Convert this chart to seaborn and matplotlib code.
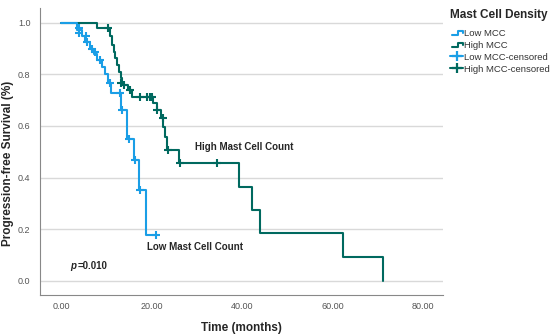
import pandas as pd
import matplotlib
matplotlib.use("Agg")
import matplotlib.pyplot as plt
from matplotlib.lines import Line2D
from matplotlib.legend_handler import HandlerBase
import seaborn as sns

# Kaplan-Meier steps (time in months, survival after the drop)
low_times = [0, 3.6, 4.6, 5.3, 6.3, 7.2, 8.0, 9.0, 9.8, 10.4, 11.0, 13.3, 14.5, 16.0, 17.3, 18.7, 21.0]
low_surv = [1.0, 0.97, 0.95, 0.925, 0.90, 0.88, 0.855, 0.83, 0.80, 0.765, 0.727, 0.66, 0.55, 0.467, 0.351, 0.177, 0.177]

high_times = [0, 7.9, 10.8, 11.2, 11.6, 12.0, 12.4, 12.8, 13.2, 13.5, 14.8, 15.6, 20.4, 21.2, 22.0,
              22.6, 23.0, 23.4, 26.0, 39.4, 42.3, 44.0, 62.3, 71.2]
high_surv = [1.0, 0.979, 0.95, 0.913, 0.888, 0.862, 0.836, 0.81, 0.784, 0.758, 0.74, 0.713, 0.688, 0.662, 0.63,
             0.597, 0.558, 0.506, 0.456, 0.364, 0.274, 0.184, 0.093, 0.0]

# censored observations
low_cens_t = [4.0, 4.0, 5.5, 5.8, 6.8, 7.4, 8.6, 10.8, 13.1, 13.4, 14.9, 16.4, 17.5, 20.9]
low_cens_s = [0.978, 0.959, 0.95, 0.926, 0.90, 0.885, 0.855, 0.765, 0.727, 0.66, 0.55, 0.467, 0.351, 0.177]

high_cens_t = [10.3, 13.2, 13.9, 15.2, 17.5, 19.0, 19.7, 20.1, 21.2, 22.5, 23.7, 26.3, 34.4]
high_cens_s = [0.979, 0.765, 0.758, 0.74, 0.713, 0.713, 0.713, 0.713, 0.662, 0.63, 0.506, 0.456, 0.456]

x_ticks = [0, 20, 40, 60, 80]
y_ticks = [0.0, 0.2, 0.4, 0.6, 0.8, 1.0]

LOW_COLOR = "#1A9EE6"
HIGH_COLOR = "#00695F"

sns.set_style("white")
plt.rcParams["font.family"] = ["Liberation Sans", "DejaVu Sans"]


class StepHandler(HandlerBase):
    """Draw a small step shape as legend key"""
    def create_artists(self, legend, orig_handle, xdescent, ydescent, width, height, fontsize, trans):
        x0 = -xdescent + width * 0.15
        w = width * 0.85
        xs = [x0, x0 + w * 0.55, x0 + w * 0.55, x0 + w, x0 + w]
        ys = [-ydescent + height * 0.2, -ydescent + height * 0.2,
              -ydescent + height * 0.75, -ydescent + height * 0.75, -ydescent + height * 0.5]
        line = Line2D(xs, ys, color=orig_handle.get_color(), lw=1.5)
        line.set_transform(trans)
        return [line]


low_df = pd.DataFrame({"Time": low_times, "Survival": low_surv})
high_df = pd.DataFrame({"Time": high_times, "Survival": high_surv})
low_c = pd.DataFrame({"Time": low_cens_t, "Survival": low_cens_s})
high_c = pd.DataFrame({"Time": high_cens_t, "Survival": high_cens_s})

fig = plt.figure(figsize=(5.5, 3.34), dpi=100)
ax = fig.add_axes([0.073, 0.117, 0.733, 0.859])

sns.lineplot(data=high_df, x="Time", y="Survival", drawstyle="steps-post", estimator=None,
             color=HIGH_COLOR, lw=1.5, ax=ax)
sns.lineplot(data=low_df, x="Time", y="Survival", drawstyle="steps-post", estimator=None,
             color=LOW_COLOR, lw=1.5, ax=ax)
sns.scatterplot(data=low_c, x="Time", y="Survival", marker="+", s=28, linewidth=1.5,
                color=LOW_COLOR, ax=ax, zorder=3)
sns.scatterplot(data=high_c, x="Time", y="Survival", marker="+", s=28, linewidth=1.5,
                color=HIGH_COLOR, ax=ax, zorder=3)

ax.set_xlim(-4.65, 84.5)
ax.set_ylim(-0.055, 1.057)
ax.set_xticks(x_ticks)
ax.set_xticklabels([f"{v:.2f}" for v in x_ticks])
ax.set_yticks(y_ticks)
ax.set_yticklabels([f"{v:.1f}" for v in y_ticks])
ax.tick_params(axis="x", length=0, labelsize=6.5, labelcolor="#555555", pad=5)
ax.tick_params(axis="y", length=0, labelsize=6.5, labelcolor="#555555", pad=7)
for y in y_ticks:
    ax.axhline(y, color="#d9d9d9", lw=1, zorder=0)
sns.despine(ax=ax)
ax.spines["left"].set_color("#888888")
ax.spines["bottom"].set_color("#888888")

ax.set_xlabel("Time (months)", fontsize=8.5, fontweight="bold")
ax.set_ylabel("Progression-free Survival (%)", fontsize=8.5, fontweight="bold")
ax.xaxis.set_label_coords(0.5, -0.095)
ax.yaxis.set_label_coords(-0.066, 0.46)

ax.text(29.6, 0.518, "High Mast Cell Count", fontsize=7, fontweight="bold", va="center")
ax.text(19.0, 0.13, "Low Mast Cell Count", fontsize=7, fontweight="bold", va="center")
ax.text(2.0, 0.057, "p", fontsize=7, fontweight="bold", fontstyle="italic", va="center")
ax.text(3.6, 0.057, "=0.010", fontsize=7, fontweight="bold", va="center")

handles = [
    Line2D([], [], color=LOW_COLOR),
    Line2D([], [], color=HIGH_COLOR),
    Line2D([], [], color=LOW_COLOR, marker="+", markersize=7, mew=1.6, lw=1.5),
    Line2D([], [], color=HIGH_COLOR, marker="+", markersize=7, mew=1.6, lw=1.5),
]
labels = ["Low MCC", "High MCC", "Low MCC-censored", "High MCC-censored"]
leg = fig.legend(handles, labels, title="Mast Cell Density", loc="upper left",
                 bbox_to_anchor=(0.812, 0.985), frameon=False, fontsize=6.8,
                 title_fontproperties={"weight": "bold", "size": 8.5},
                 handler_map={handles[0]: StepHandler(), handles[1]: StepHandler()},
                 handlelength=1.3, handletextpad=0.1, labelspacing=0.3, borderaxespad=0)
leg._legend_box.align = "left"
leg._legend_box.sep = 6
for t in leg.get_texts():
    t.set_color("#333333")

plt.savefig("out.png", dpi=100)
plt.close()
